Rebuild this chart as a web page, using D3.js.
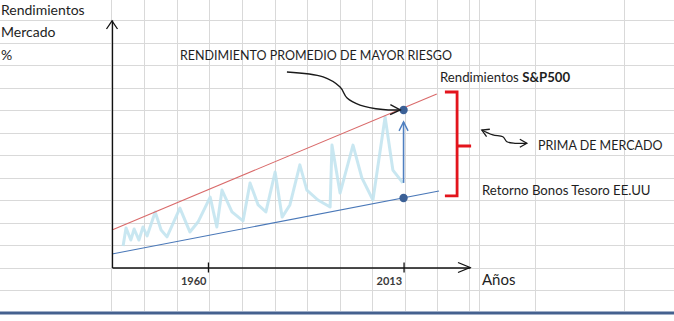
<!doctype html>
<meta charset="utf-8">
<title>Prima de mercado</title>
<style>
    html { background: white; }
    body { margin: 0; }
    svg { display: block; }
    text { font-family: Lato, "Open Sans", sans-serif; fill: #1e1e1e; }
    .grid line { stroke: #d9d9d9; stroke-width: 1; shape-rendering: crispEdges; }
    .axis path, .axis line { stroke: #111; stroke-width: 1.3; }
    .axis text { font-size: 11px; font-weight: bold; fill: #3a3a3a; }
</style>
<svg width=674 height=321></svg>
<script src="https://d3js.org/d3.v7.min.js"></script>
<script>
    // data (x in years, y in "rendimiento" units)
    var tickYears = [1960, 2013];
    var sp500Years = [1934, 2022];
    var sp500Trend = [1.67, 7.71];
    var bondYears = [1934, 2022.6];
    var bondTrend = [0.6, 3.4];
    var markYear = 2013;
    var sp500Mark = 7.0;
    var bondMark = 3.09;
    var waveYears = [1937.0, 1937.8, 1939.1, 1940.0, 1941.3, 1942.4, 1943.5, 1945.7, 1947.3, 1948.9,
        1952.4, 1955.1, 1957.3, 1960.6, 1962.4, 1963.8, 1966.5, 1969.5, 1971.4, 1973.6,
        1975.7, 1978.2, 1980.1, 1982.2, 1984.9, 1986.8, 1989.8, 1993.1, 1993.6, 1995.8,
        1999.3, 2001.7, 2004.7, 2008.0, 2010.1, 2012.8];
    var waveValues = [0.96, 1.76, 1.22, 1.71, 1.22, 1.80, 1.40, 2.47, 1.67, 1.36,
        2.64, 1.58, 2.02, 3.13, 1.80, 3.44, 2.47, 2.07, 3.76, 2.78,
        2.47, 4.24, 2.24, 2.78, 4.56, 3.44, 3.00, 2.69, 5.44, 3.31,
        5.44, 3.98, 3.00, 6.69, 4.33, 3.76];

    // annotations (same units as the data)
    var noteCurveYears = [1981.4, 1991.2, 1995.8, 1997.7, 2001.2, 2007.4, 2012.1];
    var noteCurveValues = [8.69, 8.47, 8.02, 7.53, 7.22, 7.02, 7.0];
    var premiumArrow = [3.76, 6.47];
    var bracketYears = [2024.2, 2027.5, 2031.3];
    var bracketValues = [7.8, 5.4, 3.18];
    var squiggleYears = [2034.2, 2037.2, 2039.9, 2041.0, 2043.2, 2046.4];
    var squiggleValues = [6.11, 5.89, 5.81, 5.59, 5.52, 5.52];

    // spreadsheet cells: [column, row, text, bold part]
    var cellTexts = [
        [0, 1, 'Rendimientos'],
        [0, 2, 'Mercado'],
        [0, 3, '%'],
        [3, 3, 'RENDIMIENTO PROMEDIO DE MAYOR RIESGO'],
        [11, 4, 'Rendimientos ', 'S&P500'],
        [14, 7, 'PRIMA DE MERCADO'],
        [13, 9, 'Retorno Bonos Tesoro EE.UU'],
        [13, 13, 'Años']
    ];

    var svg = d3.select('svg');
    var columnEdges = [0, 111, 144, 177, 209, 242, 275, 307, 340, 372, 405, 437, 469, 479, 535, 624];
    var rowEdges = d3.range(0, 13).map(function (i) { return 20 + i * 22.5; });

    var x = d3.scaleLinear().domain([1934, 2031]).range([112, 470]);
    var y = d3.scaleLinear().domain([0, 11]).range([267.5, 20]);

    // sheet grid
    var grid = svg.append('g').attr('class', 'grid');
    grid.selectAll('.h').data(rowEdges).enter().append('line')
        .attr('x1', 0).attr('x2', 674)
        .attr('y1', function (d) { return Math.round(d) + 0.5; })
        .attr('y2', function (d) { return Math.round(d) + 0.5; });
    grid.selectAll('.v').data(columnEdges.slice(1)).enter().append('line')
        .attr('y1', 0).attr('y2', 311)
        .attr('x1', function (d) { return d + 0.5; })
        .attr('x2', function (d) { return d + 0.5; });
    svg.append('rect').attr('x', 0).attr('y', 311.5).attr('width', 674).attr('height', 3).attr('fill', '#45618f');

    var line = d3.line()
        .x(function (d) { return x(d[0]); })
        .y(function (d) { return y(d[1]); });
    var curve = d3.line()
        .curve(d3.curveCatmullRom)
        .x(function (d) { return x(d[0]); })
        .y(function (d) { return y(d[1]); });

    // wavy market returns
    svg.append('path')
        .datum(d3.zip(waveYears, waveValues))
        .attr('d', line)
        .attr('fill', 'none')
        .attr('stroke', '#bfe3ee')
        .attr('stroke-width', 3)
        .attr('stroke-linejoin', 'round')
        .attr('opacity', 0.85);

    svg.append('path')
        .datum(d3.zip(sp500Years, sp500Trend))
        .attr('d', line)
        .attr('stroke', '#d96a6a')
        .attr('stroke-width', 1.1)
        .attr('fill', 'none');

    svg.append('path')
        .datum(d3.zip(bondYears, bondTrend))
        .attr('d', line)
        .attr('stroke', '#4a78b8')
        .attr('stroke-width', 1.2)
        .attr('fill', 'none');

    // axes
    var xAxis = svg.append('g')
        .attr('class', 'axis')
        .attr('transform', 'translate(0,' + y(0) + ')')
        .call(d3.axisBottom(x).tickValues(tickYears).tickFormat(d3.format('d')).tickSize(5).tickSizeOuter(0));
    xAxis.selectAll('.tick line').attr('y1', -5).attr('y2', 5);
    xAxis.selectAll('.tick text').attr('text-anchor', 'end').attr('x', -2).attr('y', 9.5);

    svg.append('g')
        .attr('class', 'axis')
        .attr('transform', 'translate(' + x(1934) + ',0)')
        .call(d3.axisLeft(y).tickValues([]).tickSizeOuter(0));

    arrowHead([x(2031), y(0)], [x(2020), y(0)], 12, 5, '#111', 1.3);
    arrowHead([x(1934), y(11) + 1], [x(1934), y(9)], 8, 5.5, '#111', 1.3);

    // premium arrow between the two marks
    svg.append('line')
        .attr('x1', x(markYear)).attr('x2', x(markYear))
        .attr('y1', y(premiumArrow[0])).attr('y2', y(premiumArrow[1]))
        .attr('stroke', '#4f7fc0').attr('stroke-width', 1.6);
    arrowHead([x(markYear), y(premiumArrow[1])], [x(markYear), y(premiumArrow[0])], 9, 4.5, '#4f7fc0', 1.4);

    svg.selectAll('.mark')
        .data([sp500Mark, bondMark])
        .enter().append('circle')
        .attr('cx', x(markYear))
        .attr('cy', function (d) { return y(d); })
        .attr('r', 4.2)
        .attr('fill', '#3b6096');

    // hand drawn callout arrow
    svg.append('path')
        .datum(d3.zip(noteCurveYears, noteCurveValues))
        .attr('d', curve)
        .attr('fill', 'none')
        .attr('stroke', '#1a1a1a')
        .attr('stroke-width', 1.4);
    var n = noteCurveYears.length;
    arrowHead([x(noteCurveYears[n - 1]), y(noteCurveValues[n - 1])],
        [x(noteCurveYears[n - 2]), y(noteCurveValues[n - 2])], 10, 5, '#1a1a1a', 1.4);

    // red bracket
    svg.append('path')
        .attr('d', 'M' + x(bracketYears[0]) + ',' + y(bracketValues[0]) +
            'H' + x(bracketYears[1]) + 'V' + y(bracketValues[2]) +
            'H' + x(bracketYears[0]) +
            'M' + x(bracketYears[1]) + ',' + y(bracketValues[1]) + 'H' + x(bracketYears[2]))
        .attr('fill', 'none')
        .attr('stroke', '#e3141c')
        .attr('stroke-width', 2.8);

    // wavy double arrow
    svg.append('path')
        .datum(d3.zip(squiggleYears, squiggleValues))
        .attr('d', curve)
        .attr('fill', 'none')
        .attr('stroke', '#1a1a1a')
        .attr('stroke-width', 1.3);
    var m = squiggleYears.length;
    arrowHead([x(squiggleYears[0]), y(squiggleValues[0])], [x(squiggleYears[1]), y(squiggleValues[1])], 7, 4, '#1a1a1a', 1.3);
    arrowHead([x(squiggleYears[m - 1]), y(squiggleValues[m - 1])], [x(squiggleYears[m - 2]), y(squiggleValues[m - 2])], 7, 4, '#1a1a1a', 1.3);

    // cell texts
    var cells = svg.selectAll('.cell')
        .data(cellTexts)
        .enter().append('text')
        .attr('x', function (d) { return columnEdges[d[0]] + (d[0] === 0 ? 1 : 3); })
        .attr('y', function (d) { return (d[1] === 1 ? 20 : rowEdges[d[1] - 1]) - 5.5; })
        .style('font-size', function (d) {
            if (d[0] === 0) return '14px';
            if (d[2] === 'Años') return '15px';
            return d[1] === 4 || d[1] === 9 ? '13.2px' : '12.5px';
        });
    cells.append('tspan').text(function (d) { return d[2]; });
    cells.filter(function (d) { return d[3]; })
        .append('tspan').style('font-weight', 'bold').text(function (d) { return d[3]; });

    function arrowHead(tip, from, len, half, color, width) {
        var dx = tip[0] - from[0], dy = tip[1] - from[1];
        var k = Math.sqrt(dx * dx + dy * dy);
        var ux = dx / k, uy = dy / k;
        var bx = tip[0] - ux * len, by = tip[1] - uy * len;
        svg.append('path')
            .attr('d', 'M' + (bx - uy * half) + ',' + (by + ux * half) +
                'L' + tip[0] + ',' + tip[1] +
                'L' + (bx + uy * half) + ',' + (by - ux * half))
            .attr('fill', 'none')
            .attr('stroke', color)
            .attr('stroke-width', width)
            .attr('stroke-linejoin', 'miter');
    }
</script>
